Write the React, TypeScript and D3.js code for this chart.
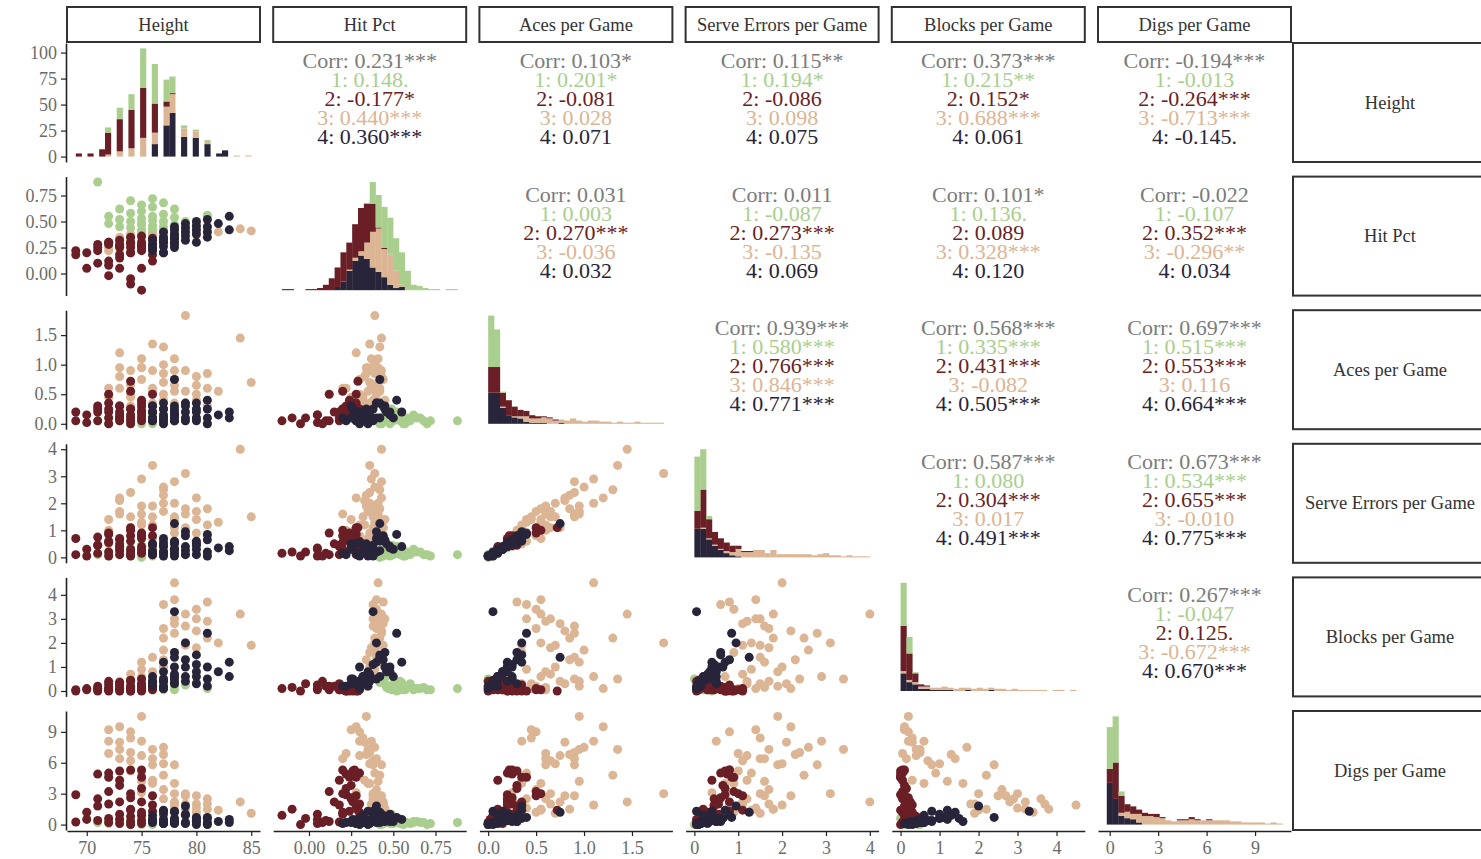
import React, { useEffect, useRef } from "react";
import * as d3 from "d3";

const varNames = ["Height", "Hit Pct", "Aces per Game", "Serve Errors per Game", "Blocks per Game", "Digs per Game"];
const groupColors = ["#a9ce8e", "#6a1e26", "#dbb594", "#28243a"];
const corrColor = "#7b7b7b";

// players: [height, hitPct, aces, serveErrors, blocks, digs]
const group1 = [
	[71, 0.88, 0.05, 0.1, 0.1, 0.2], [72, 0.55, 0.1, 0.2, 0.05, 0.4], [72, 0.48, 0.0, 0.05, 0.2, 0.1],
	[73, 0.62, 0.15, 0.3, 0.1, 0.3], [73, 0.45, 0.05, 0.1, 0.3, 0.2], [73, 0.52, 0.2, 0.4, 0.0, 0.6],
	[74, 0.58, 0.1, 0.2, 0.15, 0.2], [74, 0.44, 0.05, 0.05, 0.4, 0.1], [74, 0.7, 0.0, 0.1, 0.05, 0.0],
	[74, 0.5, 0.15, 0.35, 0.25, 0.5], [75, 0.47, 0.2, 0.4, 0.1, 0.8], [75, 0.6, 0.05, 0.1, 0.3, 0.1],
	[75, 0.53, 0.1, 0.25, 0.2, 0.3], [75, 0.42, 0.0, 0.0, 0.5, 0.0], [75, 0.66, 0.1, 0.2, 0.1, 0.2],
	[75, 0.49, 0.25, 0.45, 0.05, 1.0], [76, 0.55, 0.05, 0.1, 0.35, 0.2], [76, 0.46, 0.15, 0.3, 0.15, 0.4],
	[76, 0.72, 0.05, 0.05, 0.05, 0.1], [76, 0.51, 0.2, 0.4, 0.25, 0.6], [76, 0.43, 0.0, 0.1, 0.45, 0.0],
	[76, 0.64, 0.1, 0.2, 0.1, 0.3], [77, 0.5, 0.1, 0.2, 0.3, 0.2], [77, 0.57, 0.0, 0.05, 0.05, 0.1],
	[77, 0.45, 0.15, 0.35, 0.55, 0.4], [77, 0.68, 0.05, 0.1, 0.15, 0.2], [78, 0.54, 0.05, 0.1, 0.4, 0.1],
	[78, 0.47, 0.2, 0.35, 0.2, 0.5], [78, 0.62, 0.1, 0.2, 0.05, 0.2], [79, 0.5, 0.05, 0.1, 0.25, 0.1],
	[80, 0.42, 0.1, 0.15, 0.35, 0.2], [81, 0.56, 0.0, 0.05, 0.1, 0.0],
];
const group2 = [
	[69, 0.18, 0.05, 0.1, 0.05, 0.25], [69, 0.22, 0.2, 0.7, 0.0, 2.9], [70, 0.05, 0.02, 0.05, 0.1, 0.5],
	[70, 0.2, 0.15, 0.3, 0.05, 1.2], [71, 0.28, 0.3, 0.45, 0.1, 1.8], [71, 0.22, 0.25, 0.75, 0.0, 4.9],
	[71, 0.1, 0.05, 0.15, 0.2, 0.4], [71, 0.25, 0.2, 0.45, 0.05, 2.5], [72, -0.02, 0.1, 0.2, 0.3, 0.6],
	[72, 0.12, 0.5, 0.9, 0.05, 3.2], [72, 0.28, 0.35, 0.85, 0.0, 4.6], [72, 0.3, 0.25, 0.55, 0.15, 2.0],
	[72, 0.08, 0.0, 0.05, 0.4, 0.2], [72, 0.3, 0.2, 0.6, 0.05, 5.0], [73, 0.05, 0.15, 0.35, 0.25, 1.0],
	[73, 0.26, 0.3, 0.7, 0.0, 5.2], [73, 0.25, 0.3, 0.65, 0.1, 3.8], [73, 0.32, 0.1, 0.25, 0.35, 0.5],
	[73, 0.18, 0.1, 0.4, 0.05, 4.3], [73, 0.15, 0.2, 0.5, 0.2, 2.2], [73, 0.28, 0.05, 0.1, 0.35, 0.1],
	[74, -0.1, 0.1, 0.2, 0.15, 1.5], [74, 0.29, 0.72, 1.1, 0.0, 1.4], [74, 0.2, 0.55, 1.0, 0.05, 3.0],
	[74, 0.3, 0.15, 0.3, 0.4, 0.8], [74, 0.35, 0.05, 0.1, 0.45, 0.3], [74, 0.2, 0.25, 0.8, 0.1, 5.3],
	[74, 0.25, 0.25, 0.6, 0.2, 2.6], [74, -0.05, 0.0, 0.05, 0.0, 0.0], [75, -0.16, 0.05, 0.15, 0.1, 0.9],
	[75, 0.27, 0.22, 0.8, 0.05, 5.3], [75, 0.22, 0.3, 0.7, 0.15, 3.5], [75, 0.3, 0.2, 0.4, 0.3, 1.2],
	[75, 0.36, 0.1, 0.2, 0.5, 0.4], [75, 0.24, 0.4, 0.9, 0.0, 4.6], [75, 0.26, 0.35, 0.8, 0.25, 2.2],
	[75, 0.05, 0.15, 0.3, 0.05, 0.1], [76, 0.18, 0.2, 0.45, 0.3, 1.9], [76, 0.28, 0.5, 1.1, 0.1, 2.8],
	[76, 0.34, 0.1, 0.25, 0.4, 0.5], [76, 0.12, 0.05, 0.1, 0.2, 0.3], [76, 0.24, 0.3, 0.8, 0.05, 1.3],
	[77, 0.3, 0.1, 0.2, 0.4, 0.3], [77, 0.2, 0.25, 0.55, 0.1, 1.0], [78, 0.33, 0.15, 0.3, 0.35, 0.2],
];
const group3 = [
	[72, 0.25, 0.45, 1.4, 0.1, 9.2], [72, 0.3, 0.35, 0.5, 0.2, 8.1], [72, 0.22, 0.6, 1.0, 0.05, 6.9],
	[73, 0.28, 1.2, 2.2, 0.1, 9.5], [73, 0.33, 0.8, 2.1, 0.3, 8.0], [73, 0.2, 0.6, 1.6, 0.15, 6.4],
	[73, 0.35, 0.95, 1.7, 0.4, 7.3], [74, 0.3, 0.5, 0.8, 0.2, 9.0], [74, 0.36, 0.9, 2.4, 0.5, 7.0],
	[74, 0.27, 0.3, 1.0, 0.1, 5.2], [74, 0.38, 0.65, 1.1, 0.7, 6.2], [74, 0.32, 0.45, 1.5, 0.3, 8.4],
	[75, 0.34, 0.95, 1.9, 0.2, 10.5], [75, 0.37, 1.1, 2.9, 0.6, 8.1], [75, 0.3, 0.75, 1.2, 0.4, 6.7],
	[75, 0.39, 0.4, 1.3, 0.9, 5.0], [75, 0.28, 0.25, 0.4, 0.1, 3.1], [75, 0.41, 0.95, 1.6, 1.2, 4.2],
	[76, 0.36, 1.35, 3.4, 0.5, 7.3], [76, 0.38, 0.6, 1.9, 0.8, 5.8], [76, 0.33, 0.35, 1.2, 0.3, 4.3],
	[76, 0.4, 0.9, 1.5, 1.4, 6.4], [76, 0.35, 0.55, 0.7, 0.6, 4.0], [77, 0.39, 1.0, 2.6, 1.7, 7.5],
	[77, 0.36, 0.7, 2.0, 1.0, 5.9], [77, 0.42, 1.3, 2.5, 2.2, 4.8], [77, 0.38, 0.4, 0.6, 3.6, 2.5],
	[77, 0.34, 0.85, 2.3, 1.3, 6.8], [77, 0.4, 0.5, 1.7, 2.6, 3.4], [78, 0.41, 1.1, 2.0, 4.5, 1.9],
	[78, 0.38, 0.65, 1.5, 3.0, 3.0], [78, 0.43, 0.9, 2.8, 2.4, 5.8], [78, 0.36, 0.35, 0.9, 1.6, 4.0],
	[78, 0.4, 0.55, 1.4, 3.8, 1.5], [78, 0.44, 0.75, 1.1, 2.8, 2.2], [79, 0.39, 1.83, 3.1, 2.0, 3.0],
	[79, 0.42, 0.55, 1.8, 3.2, 1.5], [79, 0.38, 0.9, 1.6, 2.7, 2.8], [79, 0.44, 0.35, 1.1, 1.9, 2.0],
	[80, 0.4, 0.5, 0.9, 3.4, 1.2], [80, 0.43, 0.8, 2.2, 2.5, 2.8], [80, 0.37, 0.65, 1.7, 1.8, 2.0],
	[80, 0.45, 0.4, 1.4, 3.0, 1.6], [81, 0.42, 0.6, 1.2, 2.9, 2.5], [81, 0.39, 0.85, 1.8, 2.2, 1.5],
	[81, 0.44, 0.3, 0.8, 3.7, 2.0], [82, 0.4, 0.55, 1.3, 2.0, 1.4], [84, 0.43, 1.45, 4.0, 3.2, 2.2],
	[85, 0.41, 0.7, 1.5, 1.9, 1.1],
];
const group4 = [
	[76, 0.22, 0.05, 0.1, 0.2, 0.2], [76, 0.28, 0.2, 0.5, 0.4, 0.4], [76, 0.32, 0.1, 0.2, 0.6, 0.9],
	[76, 0.25, 0.3, 0.5, 0.3, 0.3], [77, 0.3, 0.0, 0.05, 0.1, 0.1], [77, 0.35, 0.15, 0.4, 0.8, 1.3],
	[77, 0.26, 0.25, 0.45, 0.5, 0.5], [77, 0.4, 0.35, 0.7, 1.2, 1.4], [77, 0.33, 0.05, 0.2, 0.4, 0.2],
	[77, 0.2, 0.1, 0.15, 0.2, 0.1], [78, 0.38, 0.05, 0.05, 3.3, 1.3], [78, 0.3, 0.2, 0.55, 1.0, 0.6],
	[78, 0.45, 0.3, 0.6, 1.6, 0.3], [78, 0.28, 0.05, 0.15, 0.3, 0.1], [78, 0.36, 0.15, 0.3, 0.7, 0.4],
	[78, 0.42, 0.75, 1.25, 1.4, 1.2], [78, 0.25, 0.1, 0.3, 0.5, 0.2], [78, 0.34, 0.25, 0.5, 0.6, 0.3],
	[79, 0.4, 0.35, 0.95, 2.0, 1.8], [79, 0.32, 0.1, 0.25, 0.6, 0.2], [79, 0.48, 0.2, 0.4, 1.0, 1.0],
	[79, 0.36, 0.05, 0.1, 0.4, 0.1], [79, 0.44, 0.3, 0.8, 1.3, 0.9], [80, 0.38, 0.25, 0.45, 1.1, 0.7],
	[80, 0.5, 0.1, 0.3, 0.6, 0.3], [80, 0.42, 0.35, 0.6, 1.5, 0.6], [80, 0.3, 0.05, 0.1, 0.3, 0.0],
	[80, 0.46, 0.2, 0.5, 0.8, 0.4], [81, 0.52, 0.4, 0.85, 2.4, 0.7], [81, 0.4, 0.1, 0.2, 0.5, 0.2],
	[81, 0.45, 0.25, 0.65, 1.0, 0.6], [81, 0.35, 0.0, 0.05, 0.2, 0.0], [82, 0.48, 0.15, 0.35, 0.8, 0.3],
	[83, 0.55, 0.2, 0.4, 1.2, 0.5], [83, 0.42, 0.1, 0.25, 0.6, 0.2],
];
const groups = [group1, group2, group3, group4];

// stacked histogram counts, 30 bins, each bin [group1, group2, group3, group4]
const heightBins = [
	[0, 3, 0, 0], [0, 0, 0, 0], [0, 3, 0, 0], [0, 0, 0, 0], [0, 7, 0, 0], [5, 21, 2, 0], [0, 0, 0, 0], [11, 31, 5, 0],
	[0, 0, 0, 0], [15, 37, 8, 0], [0, 0, 0, 0], [38, 48, 18, 0], [0, 0, 0, 0], [38, 28, 11, 12], [0, 0, 0, 0],
	[21, 5, 18, 30], [16, 1, 18, 42], [0, 0, 0, 0], [3, 0, 8, 19], [0, 0, 0, 0], [2, 0, 6, 18], [0, 0, 0, 0],
	[1, 0, 3, 12], [0, 0, 0, 0], [0, 0, 0, 3], [0, 0, 0, 6], [0, 0, 0, 0], [0, 0, 1, 0], [0, 0, 0, 0], [0, 0, 1, 0],
];
const hitPctBins = [
	[0, 1, 0, 0], [0, 1, 0, 0], [0, 0, 0, 0], [0, 0, 0, 0], [0, 1, 0, 0], [0, 1, 0, 0], [0, 2, 0, 0], [0, 5, 0, 0],
	[0, 10, 0, 1], [0, 18, 0, 3], [0, 27, 0, 8], [0, 25, 1, 18], [0, 31, 3, 27], [0, 40, 4, 32], [0, 36, 15, 29],
	[20, 26, 33, 21], [30, 1, 40, 17], [38, 1, 26, 12], [34, 0, 28, 5], [30, 0, 16, 2], [30, 0, 2, 3], [17, 0, 1, 0],
	[5, 0, 0, 0], [4, 0, 0, 0], [2, 0, 0, 0], [1, 0, 0, 0], [1, 0, 0, 0], [0, 0, 0, 0], [1, 0, 0, 0], [1, 0, 0, 0],
];
const acesBins = [
	[48, 24, 0, 29], [35, 24, 0, 29], [1, 13, 1, 15], [0, 14, 0, 8], [0, 9, 1, 6], [0, 6, 2, 5], [0, 5, 5, 2],
	[0, 3, 4, 1], [0, 2, 4, 1], [0, 1, 5, 1], [0, 1, 5, 0], [0, 1, 3, 0], [0, 0, 3, 1], [0, 0, 3, 0], [0, 0, 5, 0],
	[0, 0, 3, 0], [0, 0, 2, 0], [0, 0, 3, 0], [0, 0, 3, 0], [0, 0, 2, 0], [0, 0, 2, 0], [0, 0, 1, 0], [0, 0, 2, 0],
	[0, 0, 1, 0], [0, 0, 1, 0], [0, 0, 2, 0], [0, 0, 1, 0], [0, 0, 1, 0], [0, 0, 1, 0], [0, 0, 1, 0],
];
const serveErrBins = [
	[51, 17, 0, 27], [38, 36, 1, 27], [3, 18, 1, 17], [0, 12, 1, 11], [0, 10, 1, 7], [0, 8, 2, 4], [0, 6, 3, 2],
	[0, 3, 7, 1], [0, 1, 5, 0], [0, 1, 5, 0], [0, 0, 7, 0], [0, 0, 7, 0], [0, 0, 4, 0], [0, 0, 7, 0], [0, 0, 3, 0],
	[0, 0, 3, 0], [0, 0, 3, 0], [0, 0, 3, 0], [0, 0, 3, 0], [0, 0, 3, 0], [0, 0, 2, 0], [0, 0, 3, 0], [0, 0, 4, 0],
	[0, 0, 2, 0], [0, 0, 2, 0], [0, 0, 1, 0], [0, 0, 2, 0], [0, 0, 1, 0], [0, 0, 1, 0], [0, 0, 1, 0],
];
const blocksBins = [
	[39, 41, 2, 16], [15, 24, 2, 8], [1, 8, 2, 6], [0, 2, 2, 2], [0, 1, 2, 2], [0, 0, 2, 1], [0, 0, 2, 1],
	[0, 0, 3, 1], [0, 0, 2, 1], [0, 0, 2, 0], [0, 0, 3, 0], [0, 0, 2, 1], [0, 0, 2, 0], [0, 0, 3, 0], [0, 0, 2, 0],
	[0, 0, 2, 1], [0, 0, 2, 0], [0, 0, 2, 0], [0, 0, 1, 0], [0, 0, 2, 0], [0, 0, 1, 0], [0, 0, 1, 0], [0, 0, 1, 0],
	[0, 0, 1, 0], [0, 0, 1, 0], [0, 0, 0, 0], [0, 0, 1, 0], [0, 0, 1, 0], [0, 0, 0, 0], [0, 0, 1, 0],
];
const digsBins = [
	[39, 13, 0, 39], [43, 34, 0, 24], [4, 16, 3, 8], [0, 7, 6, 6], [0, 7, 5, 5], [0, 4, 8, 2], [0, 3, 8, 0],
	[0, 2, 8, 0], [0, 3, 7, 0], [0, 1, 6, 0], [0, 0, 4, 0], [0, 0, 3, 0], [0, 1, 4, 0], [0, 1, 4, 0], [0, 2, 5, 0],
	[0, 1, 4, 0], [0, 0, 4, 0], [0, 1, 4, 0], [0, 0, 4, 0], [0, 0, 4, 0], [0, 0, 4, 0], [0, 0, 3, 0], [0, 0, 3, 0],
	[0, 0, 2, 0], [0, 0, 2, 0], [0, 0, 2, 0], [0, 0, 2, 0], [0, 0, 1, 0], [0, 0, 2, 0], [0, 0, 1, 0],
];
const histBins = [heightBins, hitPctBins, acesBins, serveErrBins, blocksBins, digsBins];

const axisTicks = [[70, 75, 80, 85], [0, 0.25, 0.5, 0.75], [0, 0.5, 1, 1.5], [0, 1, 2, 3, 4], [0, 1, 2, 3, 4], [0, 3, 6, 9]];
const axisFormats = ["d", ".2f", ".1f", "d", "d", "d"];
const countTicks = [0, 25, 50, 75, 100];

// upper triangle, row by row: Corr line then groups 1-4
const corrLabels = [
	["Corr: 0.231***", "1: 0.148.", "2: -0.177*", "3: 0.440***", "4: 0.360***"],
	["Corr: 0.103*", "1: 0.201*", "2: -0.081", "3: 0.028", "4: 0.071"],
	["Corr: 0.115**", "1: 0.194*", "2: -0.086", "3: 0.098", "4: 0.075"],
	["Corr: 0.373***", "1: 0.215**", "2: 0.152*", "3: 0.688***", "4: 0.061"],
	["Corr: -0.194***", "1: -0.013", "2: -0.264***", "3: -0.713***", "4: -0.145."],
	["Corr: 0.031", "1: 0.003", "2: 0.270***", "3: -0.036", "4: 0.032"],
	["Corr: 0.011", "1: -0.087", "2: 0.273***", "3: -0.135", "4: 0.069"],
	["Corr: 0.101*", "1: 0.136.", "2: 0.089", "3: 0.328***", "4: 0.120"],
	["Corr: -0.022", "1: -0.107", "2: 0.352***", "3: -0.296**", "4: 0.034"],
	["Corr: 0.939***", "1: 0.580***", "2: 0.766***", "3: 0.846***", "4: 0.771***"],
	["Corr: 0.568***", "1: 0.335***", "2: 0.431***", "3: -0.082", "4: 0.505***"],
	["Corr: 0.697***", "1: 0.515***", "2: 0.553***", "3: 0.116", "4: 0.664***"],
	["Corr: 0.587***", "1: 0.080", "2: 0.304***", "3: 0.017", "4: 0.491***"],
	["Corr: 0.673***", "1: 0.534***", "2: 0.655***", "3: -0.010", "4: 0.775***"],
	["Corr: 0.267***", "1: -0.047", "2: 0.125.", "3: -0.672***", "4: 0.670***"],
];

const W = 1481;
const H = 859;
const FONT = "'Liberation Serif', 'Times New Roman', serif";

const App = () => {
	const svgRef = useRef<SVGSVGElement>(null);

	useEffect(() => {
		const svg = d3.select(svgRef.current);
		svg.selectAll("*").remove();

		const n = varNames.length;
		const panelW = 193;
		const panelH = 119;
		const colLeft = (i: number) => 67 + 206.2 * i;
		const rowTop = (i: number) => 43 + 133.6 * i;

		const players = groups.flatMap((rows, g) => rows.map((v) => ({ g, v })));
		const expand = ([a, b]: number[], f = 0.05) => [a - (b - a) * f, b + (b - a) * f];
		const extents = d3.range(n).map((k) => d3.extent(players, (d) => d.v[k]) as number[]);

		const xScale = (k: number, col: number) =>
			d3.scaleLinear().domain(expand(extents[k])).range([colLeft(col), colLeft(col) + panelW]);
		const yScale = (k: number, row: number) =>
			d3.scaleLinear().domain(expand(extents[k])).range([rowTop(row) + panelH, rowTop(row)]);

		// histogram bin geometry: 30 bins centred on the data range
		const binGeom = (k: number) => {
			const [lo, hi] = extents[k];
			const bw = (hi - lo) / 29;
			return { start: lo - bw / 2, bw, end: hi + bw / 2 };
		};
		const histX = (k: number) => {
			const { start, end } = binGeom(k);
			return d3.scaleLinear().domain(expand([start, end])).range([colLeft(k), colLeft(k) + panelW]);
		};
		const histY = (k: number) => {
			const maxCount = d3.max(histBins[k], (b) => d3.sum(b)) as number;
			return d3.scaleLinear().domain(expand([0, maxCount])).range([rowTop(k) + panelH, rowTop(k)]);
		};

		// strips on top
		varNames.forEach((name, i) => {
			svg.append("rect")
				.attr("x", colLeft(i)).attr("y", 7)
				.attr("width", panelW).attr("height", 35)
				.attr("fill", "white").attr("stroke", "#333").attr("stroke-width", 2);
			svg.append("text")
				.attr("x", colLeft(i) + panelW / 2).attr("y", 25)
				.attr("text-anchor", "middle").attr("dominant-baseline", "central")
				.style("font-family", FONT).style("font-size", "18.5px").attr("fill", "#333")
				.text(name);
		});
		// strips on the right
		varNames.forEach((name, i) => {
			svg.append("rect")
				.attr("x", 1293).attr("y", rowTop(i))
				.attr("width", 196).attr("height", panelH)
				.attr("fill", "white").attr("stroke", "#333").attr("stroke-width", 2);
			svg.append("text")
				.attr("x", 1390).attr("y", rowTop(i) + panelH / 2)
				.attr("text-anchor", "middle").attr("dominant-baseline", "central")
				.style("font-family", FONT).style("font-size", "18.5px").attr("fill", "#333")
				.text(name);
		});

		// diagonal histograms
		const stack = d3.stack<number[], number>().keys([3, 2, 1, 0]).value((d, key) => d[key]);
		histBins.forEach((bins, k) => {
			const { start, bw } = binGeom(k);
			const x = histX(k);
			const y = histY(k);
			const series = stack(bins);
			series.forEach((s) => {
				svg.append("g")
					.selectAll("rect")
					.data(s)
					.enter()
					.append("rect")
					.attr("x", (d, i) => x(start + i * bw))
					.attr("width", x(start + bw) - x(start) + 0.3)
					.attr("y", (d) => y(d[1]))
					.attr("height", (d) => Math.max(0, y(d[0]) - y(d[1])))
					.attr("fill", groupColors[s.key]);
			});
		});

		// scatter panels below the diagonal; tan first, navy last
		const drawOrder = [2, 0, 1, 3];
		for (let r = 1; r < n; r++) {
			for (let c = 0; c < r; c++) {
				const x = xScale(c, c);
				const y = yScale(r, r);
				const g = svg.append("g");
				drawOrder.forEach((gi) => {
					g.selectAll(null)
						.data(groups[gi])
						.enter()
						.append("circle")
						.attr("cx", (d) => x(d[c]))
						.attr("cy", (d) => y(d[r]))
						.attr("r", 4.5)
						.attr("fill", groupColors[gi]);
				});
			}
		}

		// correlation text above the diagonal
		let idx = 0;
		for (let r = 0; r < n; r++) {
			for (let c = r + 1; c < n; c++) {
				const lines = corrLabels[idx++];
				const cx = colLeft(c) + panelW / 2;
				const cy = rowTop(r) + panelH / 2 - 4;
				lines.forEach((line, li) => {
					svg.append("text")
						.attr("x", cx).attr("y", cy + (li - 2) * 19)
						.attr("text-anchor", "middle").attr("dominant-baseline", "central")
						.style("font-family", FONT).style("font-size", "22px")
						.attr("fill", li === 0 ? corrColor : groupColors[li - 1])
						.text(line);
				});
			}
		}

		const styleAxis = (a: d3.Selection<SVGGElement, unknown, null, undefined>) => {
			a.attr("font-family", null).attr("font-size", null);
			a.selectAll("text").style("font-family", FONT).style("font-size", "18px").attr("fill", "#6b6b6b");
			a.selectAll("line").attr("stroke", "#222").attr("stroke-width", 1.2);
			a.select(".domain").attr("stroke", "#222").attr("stroke-width", 1.6);
		};

		// left axes
		for (let r = 0; r < n; r++) {
			const scale = r === 0 ? histY(0) : yScale(r, r);
			const ticks = r === 0 ? countTicks : axisTicks[r];
			const fmt = r === 0 ? "d" : axisFormats[r];
			const a = svg.append("g")
				.attr("transform", `translate(${colLeft(0) - 1},0)`)
				.call(d3.axisLeft(scale).tickValues(ticks).tickFormat(d3.format(fmt) as any).tickSize(5).tickSizeOuter(0).tickPadding(4));
			styleAxis(a);
		}
		// bottom axes
		for (let c = 0; c < n; c++) {
			const scale = c === n - 1 ? histX(c) : xScale(c, c);
			const a = svg.append("g")
				.attr("transform", `translate(0,${rowTop(n - 1) + panelH + 1})`)
				.call(d3.axisBottom(scale).tickValues(axisTicks[c]).tickFormat(d3.format(axisFormats[c]) as any).tickSize(5).tickSizeOuter(0).tickPadding(5));
			styleAxis(a);
		}
	}, []);

	return (
		<svg
			ref={svgRef}
			width={W}
			height={H}
			style={{ position: "absolute", left: 0, top: 0, background: "white" }}
		></svg>
	);
};

export default App;
